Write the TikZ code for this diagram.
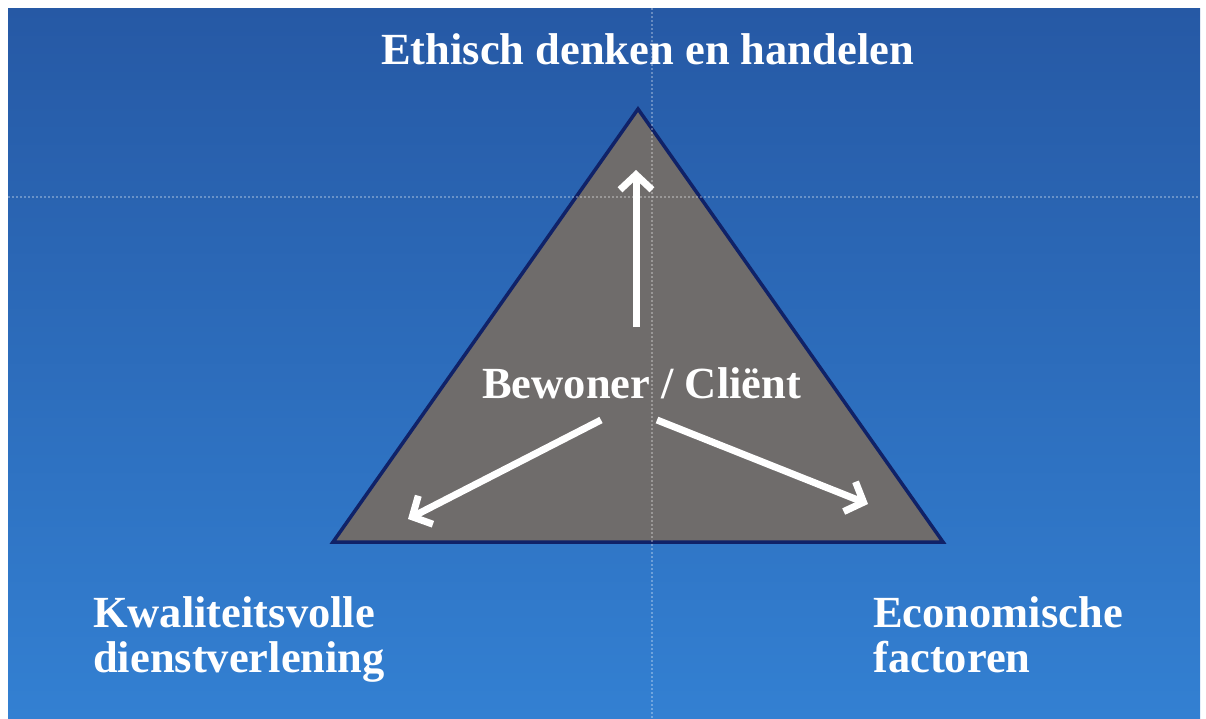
\documentclass[tikz,border=0pt]{standalone}
\usepackage{fontspec}
\setmainfont{Liberation Serif}
\usetikzlibrary{arrows.meta}
\definecolor{bgtop}{RGB}{38,89,165}
\definecolor{bgbot}{RGB}{51,128,210}
\definecolor{trifill}{RGB}{111,108,107}
\definecolor{triedge}{RGB}{16,34,104}
\tikzset{
  label/.style={inner sep=0pt, anchor=base west, text=white, font=\fontsize{44.5}{46}\selectfont\bfseries},
  flow/.style={draw=white, line width=7pt, -{Straight Barb[length=15pt,width=32pt]}},
  fold/.style={draw=white, draw opacity=0.3, line width=1.2pt, dash pattern=on 2pt off 2pt}
}
\begin{document}
\begin{tikzpicture}[x=1pt,y=-1pt]
\useasboundingbox (0,0) rectangle (1206,718);
\fill[white] (0,0) rectangle (1206,718);
\shade[top color=bgtop, bottom color=bgbot] (8,8) rectangle (1200,718);
% triangle
\coordinate (apex) at (638,109);
\coordinate (bl) at (333,542);
\coordinate (br) at (943,542);
\filldraw[fill=trifill, draw=triedge, line width=3.5pt, line join=miter] (apex) -- (bl) -- (br) -- cycle;
% fold lines of the scan
\coordinate (hL) at (8,197);
\coordinate (hR) at (1200,197);
\coordinate (vT) at (652,8);
\coordinate (vB) at (652,718);
\draw[fold] (hL) -- (hR);
\draw[fold] (vT) -- (vB);
% labels
\node[label] (title) at (381,64) {Ethisch denken en handelen};
\node[label] (center) at (482,398) {Bewoner / Cliënt};
\node[label] (kw1) at (93,627) {Kwaliteitsvolle};
\node[label] (kw2) at (93,672) {dienstverlening};
\node[label] (ec1) at (873,627) {Economische};
\node[label] (ec2) at (873,672) {factoren};
% arrows
\coordinate (upS) at (636,327);
\coordinate (upE) at (636,170);
\coordinate (lS) at (601,420);
\coordinate (lE) at (408,519);
\coordinate (rS) at (657,420);
\coordinate (rE) at (868,504);
\draw[flow] (upS) -- (upE);
\draw[flow] (lS) -- (lE);
\draw[flow] (rS) -- (rE);
\end{tikzpicture}
\end{document}
